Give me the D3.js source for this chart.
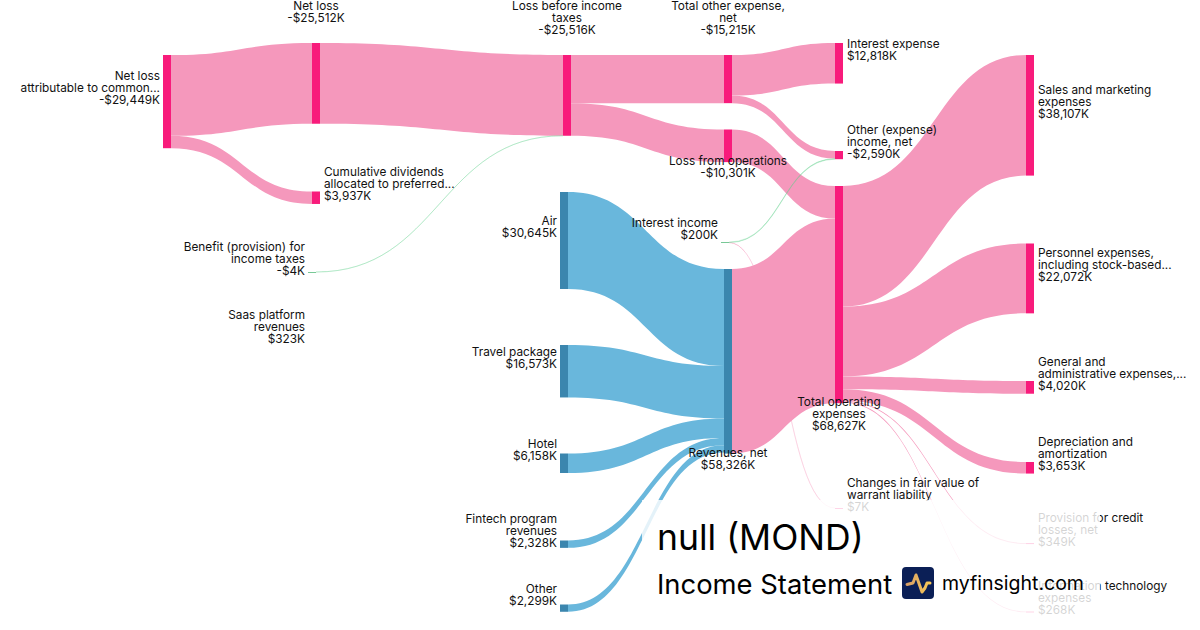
<!DOCTYPE html>
<html>
<head>
<meta charset="utf-8">
<script src="https://cdn.jsdelivr.net/npm/d3@7"></script>
<style>
  html, body { margin: 0; padding: 0; background: #fff; }
  svg { display: block; font-family: Inter, "Noto Sans", sans-serif; }
</style>
</head>
<body>
<div id="chart"></div>
<script>
// values, in $K (negative = shown as a loss)
const nodeNames = [
  'netLossCommon', 'netLoss', 'dividends', 'benefit', 'saas',
  'lossBeforeTax', 'air', 'travel', 'hotel', 'fintech', 'other',
  'totalOther', 'lossFromOps', 'interestIncome', 'revenues',
  'interestExpense', 'otherExpense', 'totalOpex', 'warrant',
  'sales', 'personnel', 'general', 'depreciation', 'credit', 'infoTech'
];
const nodeValues = [
  -29449, -25512, 3937, -4, 323,
  -25516, 30645, 16573, 6158, 2328, 2299,
  -15215, -10301, 200, 58326,
  12818, -2590, 68627, 7,
  38107, 22072, 4020, 3653, 349, 268
];
const nodeLabels = [
  ['Net loss', 'attributable to common...'], ['Net loss'], ['Cumulative dividends', 'allocated to preferred...'],
  ['Benefit (provision) for', 'income taxes'], ['Saas platform', 'revenues'],
  ['Loss before income', 'taxes'], ['Air'], ['Travel package'], ['Hotel'], ['Fintech program', 'revenues'], ['Other'],
  ['Total other expense,', 'net'], ['Loss from operations'], ['Interest income'], ['Revenues, net'],
  ['Interest expense'], ['Other (expense)', 'income, net'], ['Total operating', 'expenses'], ['Changes in fair value of', 'warrant liability'],
  ['Sales and marketing', 'expenses'], ['Personnel expenses,', 'including stock-based...'],
  ['General and', 'administrative expenses,...'], ['Depreciation and', 'amortization'],
  ['Provision for credit', 'losses, net'], ['Information technology', 'expenses']
];
const nodeKinds = [
  'expense', 'expense', 'expense', 'income', 'revenue',
  'expense', 'revenue', 'revenue', 'revenue', 'revenue', 'revenue',
  'expense', 'expense', 'income', 'revenue',
  'expense', 'expense', 'expense', 'expense',
  'expense', 'expense', 'expense', 'expense', 'expense', 'expense'
];

const linkSources = [
  'netLossCommon', 'netLossCommon', 'netLoss', 'benefit',
  'lossBeforeTax', 'lossBeforeTax',
  'air', 'travel', 'hotel', 'fintech', 'other',
  'totalOther', 'totalOther', 'interestIncome', 'interestIncome',
  'lossFromOps', 'revenues',
  'totalOpex', 'totalOpex', 'totalOpex', 'totalOpex', 'totalOpex', 'totalOpex'
];
const linkTargets = [
  'netLoss', 'dividends', 'lossBeforeTax', 'lossBeforeTax',
  'totalOther', 'lossFromOps',
  'revenues', 'revenues', 'revenues', 'revenues', 'revenues',
  'interestExpense', 'otherExpense', 'otherExpense', 'warrant',
  'totalOpex', 'totalOpex',
  'sales', 'personnel', 'general', 'depreciation', 'credit', 'infoTech'
];
const linkValues = [
  25512, 3937, 25512, 4,
  15215, 10301,
  30645, 16573, 6158, 2328, 2299,
  12818, 2397, 193, 7,
  10301, 58326,
  38107, 22072, 4020, 3653, 349, 268
];
const linkKinds = [
  'expense', 'expense', 'expense', 'income',
  'expense', 'expense',
  'revenue', 'revenue', 'revenue', 'revenue', 'revenue',
  'expense', 'expense', 'income', 'expense',
  'expense', 'expense',
  'expense', 'expense', 'expense', 'expense', 'expense', 'expense'
];

const titleText = 'null (MOND)';
const subtitleText = 'Income Statement';
const brandText = 'myfinsight.com';

// layout, separate from the data above
const width = 1200;
const height = 630;
const nodeWidth = 8;
const columnX = d3.scaleOrdinal().domain([0, 1, 2, 3, 4, 5]).range([163, 312, 563, 724, 835, 1026]);
const placement = {
  netLossCommon: { col: 0, top: 55, side: 'left' },
  netLoss: { col: 1, top: 43, side: 'above' },
  dividends: { col: 1, top: 191.5, side: 'right' },
  benefit: { col: 1, top: 272, side: 'left', nudge: -4 },
  saas: { col: 1, top: 340, side: 'left', nudge: -4 },
  lossBeforeTax: { col: 2, top: 55, side: 'above' },
  air: { col: 2, top: 192, side: 'left', nudge: -3 },
  travel: { col: 2, top: 345, side: 'left', nudge: -3 },
  hotel: { col: 2, top: 453.5, side: 'left', nudge: -3 },
  fintech: { col: 2, top: 540.5, side: 'left', nudge: -3 },
  other: { col: 2, top: 604.5, side: 'left', nudge: -3 },
  totalOther: { col: 3, top: 55, side: 'above' },
  lossFromOps: { col: 3, top: 129.5, side: 'below' },
  interestIncome: { col: 3, top: 242, side: 'left', nudge: -3 },
  revenues: { col: 3, top: 269, side: 'below' },
  interestExpense: { col: 4, top: 43, side: 'right' },
  otherExpense: { col: 4, top: 151, side: 'right' },
  totalOpex: { col: 4, top: 186, side: 'below' },
  warrant: { col: 4, top: 508, side: 'right' },
  sales: { col: 5, top: 55, side: 'right' },
  personnel: { col: 5, top: 243.5, side: 'right' },
  general: { col: 5, top: 381, side: 'right' },
  depreciation: { col: 5, top: 462, side: 'right' },
  credit: { col: 5, top: 543, side: 'right' },
  infoTech: { col: 5, top: 611.5, side: 'right' }
};

const thickness = d3.scaleLinear().domain([0, 68627]).range([0, 217.2]);
const nodeColor = d3.scaleOrdinal().domain(['expense', 'revenue', 'income']).range(['#f81b7b', '#3b86ae', '#78c896']);
const linkColor = d3.scaleOrdinal().domain(['expense', 'revenue', 'income']).range(['#f598bc', '#69b7dc', '#5fd08a']);
const linkOpacity = d3.scaleOrdinal().domain(['expense', 'revenue', 'income']).range([1, 1, 0.42]);

const nodes = nodeNames.map((name, i) => {
  const p = placement[name];
  const x0 = columnX(p.col) + (p.nudge || 0);
  return {
    name,
    value: nodeValues[i],
    label: nodeLabels[i],
    kind: nodeKinds[i],
    side: p.side,
    x0,
    x1: x0 + nodeWidth,
    y0: p.top,
    y1: p.top + thickness(Math.abs(nodeValues[i])),
    outY: p.top,
    inY: p.top,
    linked: false
  };
});
const byName = new Map(nodes.map(n => [n.name, n]));

// stack the links on each node in the order they are listed
const links = linkValues.map((value, i) => {
  const source = byName.get(linkSources[i]);
  const target = byName.get(linkTargets[i]);
  const h = thickness(value);
  const link = {
    source, target, kind: linkKinds[i], h,
    sy: source.outY,
    ty: target.inY
  };
  source.outY += h;
  target.inY += h;
  source.linked = true;
  target.linked = true;
  return link;
});

function bandPath(l) {
  const x0 = l.source.x1;
  const x1 = l.target.x0;
  const mid = (x0 + x1) / 2;
  const p = d3.path();
  p.moveTo(x0, l.sy);
  p.bezierCurveTo(mid, l.sy, mid, l.ty, x1, l.ty);
  p.lineTo(x1, l.ty + l.h);
  p.bezierCurveTo(mid, l.ty + l.h, mid, l.sy + l.h, x0, l.sy + l.h);
  p.closePath();
  return p.toString();
}

const money = d3.formatLocale({ decimal: '.', thousands: ',', grouping: [3], currency: ['$', ''], minus: '-' }).format('$,');
const valueText = v => money(v) + 'K';

const svg = d3.select('#chart').append('svg')
  .attr('width', width)
  .attr('height', height)
  .attr('viewBox', [0, 0, width, height]);

// hairline expense links sit under the wide bands, green ones on top
const paintRank = l => l.kind === 'income' ? 2 : l.h < 0.5 ? 0 : 1;

svg.append('g')
  .selectAll('path')
  .data(d3.sort(links, paintRank))
  .join('path')
  .attr('d', bandPath)
  .attr('fill', d => linkColor(d.kind))
  .attr('fill-opacity', d => linkOpacity(d.kind))
  .attr('stroke', d => linkColor(d.kind))
  .attr('stroke-opacity', d => d.h >= 0.7 ? 0 : d.kind === 'income' ? 0.35 : 0.3)
  .attr('stroke-width', 0.8);

svg.append('g')
  .selectAll('rect')
  .data(nodes.filter(n => n.linked))
  .join('rect')
  .attr('x', d => d.x0)
  .attr('y', d => d.y0)
  .attr('width', nodeWidth)
  .attr('height', d => Math.max(d.y1 - d.y0, 1))
  .attr('fill', d => nodeColor(d.kind));

const lineHeight = 12;
const labels = svg.append('g')
  .attr('font-size', 11.8)
  .attr('fill', '#111')
  .selectAll('text')
  .data(nodes)
  .join('text')
  .attr('text-anchor', d => d.side === 'left' ? 'end' : d.side === 'right' ? 'start' : 'middle')
  .attr('dominant-baseline', 'central')
  .attr('x', d => {
    if (d.side === 'left') return d.x0 - 3;
    if (d.side === 'right') return d.x1 + 4;
    return (d.x0 + d.x1) / 2;
  })
  .attr('y', d => {
    const n = d.label.length + 1;
    if (d.side === 'above') return d.y0 - 25 - (n - 1) * lineHeight;
    if (d.side === 'below') return d.y1 - 1;
    return (d.y0 + d.y1) / 2 - 13.5 - (n - 1) * lineHeight / 2;
  });

labels.each(function (d) {
  const text = d3.select(this);
  const x = text.attr('x');
  d.label.concat(valueText(d.value)).forEach((line, i) => {
    text.append('tspan')
      .attr('x', x)
      .attr('dy', i === 0 ? 0 : lineHeight)
      .text(line);
  });
});

// washed-out panel behind the title
svg.append('rect')
  .attr('x', 642)
  .attr('y', 500)
  .attr('width', 458)
  .attr('height', 130)
  .attr('fill', '#fff')
  .attr('fill-opacity', 0.82);

svg.append('text')
  .attr('x', 657)
  .attr('y', 550)
  .attr('font-size', 35.5)
  .attr('fill', '#000')
  .text(titleText);

svg.append('text')
  .attr('x', 657)
  .attr('y', 594)
  .attr('font-size', 27.4)
  .attr('fill', '#000')
  .text(subtitleText);

const gradient = svg.append('defs').append('linearGradient')
  .attr('id', 'pulse');
gradient.append('stop').attr('offset', '0%').attr('stop-color', '#d9a066');
gradient.append('stop').attr('offset', '100%').attr('stop-color', '#f8c957');

const logo = svg.append('g').attr('transform', 'translate(902,567)');
logo.append('rect')
  .attr('width', 32)
  .attr('height', 32)
  .attr('rx', 4)
  .attr('fill', '#0b1f56');
logo.append('path')
  .attr('d', 'M5 17.5 L11 16 L14 8 L20 25 L23 21 L25 16 L28 16')
  .attr('fill', 'none')
  .attr('stroke', 'url(#pulse)')
  .attr('stroke-width', 3)
  .attr('stroke-linecap', 'round')
  .attr('stroke-linejoin', 'round');

svg.append('text')
  .attr('x', 942)
  .attr('y', 590)
  .attr('font-size', 19.5)
  .attr('fill', '#000')
  .text(brandText);
</script>
</body>
</html>
